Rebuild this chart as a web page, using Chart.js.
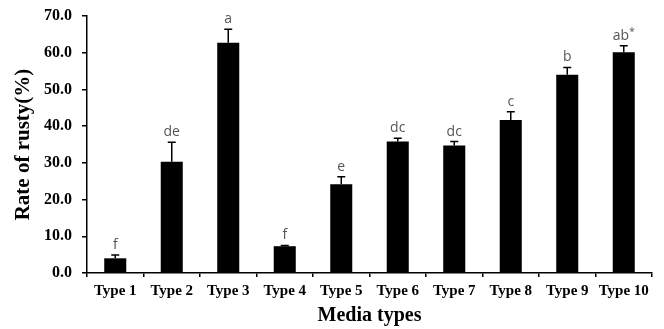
<!DOCTYPE html>
<html>
<head>
<meta charset="utf-8">
<script src="https://cdn.jsdelivr.net/npm/chart.js@4/dist/chart.umd.min.js"></script>
<style>
html,body{margin:0;padding:0;background:#fff;}
#wrap{width:664px;height:329px;position:relative;}
</style>
</head>
<body>
<div id="wrap"><canvas id="c" width="664" height="329"></canvas></div>
<script>
const categories = ["Type 1","Type 2","Type 3","Type 4","Type 5","Type 6","Type 7","Type 8","Type 9","Type 10"];
const rates = [4.0, 30.3, 62.7, 7.3, 24.2, 35.8, 34.7, 41.7, 54.0, 60.1];
const errors = [0.9, 5.3, 3.7, 0.2, 2.0, 0.9, 1.1, 2.2, 2.0, 1.8];
const letters = ["f","de","a","f","e","dc","dc","c","b","ab*"];
const yTicks = [0,10,20,30,40,50,60,70];

const errPlugin = {
  id: 'errbars',
  afterDatasetsDraw(chart) {
    const ctx = chart.ctx;
    const meta = chart.getDatasetMeta(0);
    const ys = chart.scales.y;
    ctx.save();
    meta.data.forEach((bar, i) => {
      const top = ys.getPixelForValue(rates[i] + errors[i]);
      ctx.strokeStyle = '#000';
      ctx.lineWidth = 1.5;
      ctx.beginPath();
      ctx.moveTo(bar.x, bar.y);
      ctx.lineTo(bar.x, top);
      ctx.moveTo(bar.x - 4, top);
      ctx.lineTo(bar.x + 4, top);
      ctx.stroke();
      ctx.fillStyle = '#555';
      ctx.font = '14px "Open Sans", sans-serif';
      ctx.textBaseline = 'bottom';
      let txt = letters[i];
      let sup = '';
      if (txt.endsWith('*')) { sup = '*'; txt = txt.slice(0, -1); }
      if (sup) {
        const w = ctx.measureText(txt).width;
        ctx.font = '10px "Open Sans", sans-serif';
        const ws = ctx.measureText(sup).width;
        const x0 = bar.x - (w + ws) / 2;
        ctx.textAlign = 'left';
        ctx.fillText(sup, x0 + w, top - 9);
        ctx.font = '14px "Open Sans", sans-serif';
        ctx.fillText(txt, x0, top - 3);
      } else {
        ctx.textAlign = 'center';
        ctx.fillText(txt, bar.x, top - 3);
      }
    });
    ctx.restore();
  }
};

new Chart(document.getElementById('c'), {
  type: 'bar',
  data: {
    labels: categories,
    datasets: [{
      data: rates,
      backgroundColor: '#000',
      borderWidth: 0,
      barPercentage: 0.78,
      categoryPercentage: 0.5
    }]
  },
  options: {
    responsive: false,
    animation: false,
    devicePixelRatio: 1,
    layout: { padding: { left: 10, right: 12, top: 0, bottom: 1 } },
    plugins: { legend: { display: false }, tooltip: { enabled: false } },
    scales: {
      x: {
        grid: { display: true, drawOnChartArea: false, drawTicks: true, tickLength: 4, color: '#000', offset: true, lineWidth: 1.5 },
        border: { display: true, color: '#000', width: 1.5 },
        ticks: { color: '#000', font: { family: '"Liberation Serif", serif', size: 15, weight: 'bold' }, padding: 5, maxRotation: 0, autoSkip: false },
        title: { display: true, text: 'Media types', color: '#000', font: { family: '"Liberation Serif", serif', size: 20, weight: 'bold' }, padding: { top: 0, bottom: 0 } },
        afterFit(s) { s.height = 55; }
      },
      y: {
        min: 0, max: 70,
        afterBuildTicks(s) { s.ticks = yTicks.map(v => ({ value: v })); },
        grid: { display: true, drawOnChartArea: false, drawTicks: true, tickLength: 5, color: '#000', lineWidth: 1.5 },
        border: { display: true, color: '#000', width: 1.5 },
        ticks: { color: '#000', font: { family: '"Liberation Serif", serif', size: 16, weight: 'bold' }, padding: 10, callback: v => Number(v).toFixed(1) },
        title: { display: true, text: 'Rate of rusty(%)', color: '#000', font: { family: '"Liberation Serif", serif', size: 21, weight: 'bold' }, padding: { top: 1, bottom: 0 } },
        afterFit(s) { s.width = 77; s.paddingTop = 16; }
      }
    }
  },
  plugins: [errPlugin]
});
</script>
</body>
</html>
